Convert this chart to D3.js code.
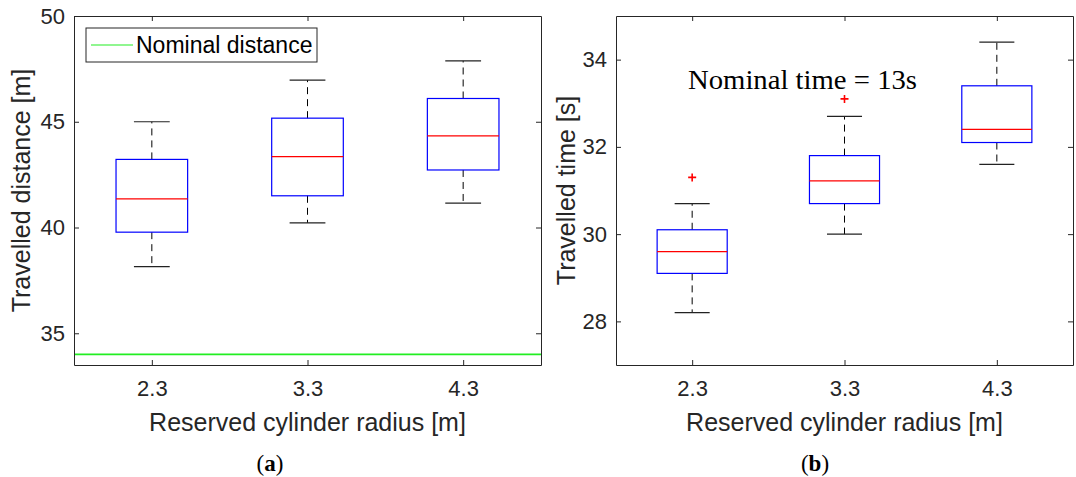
<!DOCTYPE html>
<html>
<head>
<meta charset="utf-8">
<script src="https://cdn.jsdelivr.net/npm/d3@7"></script>
<style>
  html, body { margin: 0; padding: 0; background: #fff; }
  svg { display: block; }
</style>
</head>
<body>
<svg id="chart" width="1076" height="477"></svg>
<script>
// ---------------- data ----------------
const categories = ["2.3", "3.3", "4.3"];

// (a) travelled distance [m]
const distLowerWhisker = [38.15, 40.22, 41.15];
const distQ1           = [39.78, 41.50, 42.72];
const distMedian       = [41.35, 43.35, 44.33];
const distQ3           = [43.22, 45.17, 46.10];
const distUpperWhisker = [45.00, 46.97, 47.88];
const distOutliers     = [[], [], []];
const nominalDistance  = 34;
const distTicks        = [35, 40, 45, 50];

// (b) travelled time [s]
const timeLowerWhisker = [28.2, 30.0, 31.6];
const timeQ1           = [29.1, 30.7, 32.1];
const timeMedian       = [29.6, 31.22, 32.4];
const timeQ3           = [30.1, 31.8, 33.4];
const timeUpperWhisker = [30.7, 32.7, 34.4];
const timeOutliers     = [[31.3], [33.1], []];
const timeTicks        = [28, 30, 32, 34];

// ---------------- drawing ----------------
const svg = d3.select("#chart");
const AX = "#262626";
const SANS = "'Liberation Sans', Arial, Helvetica, sans-serif";
const SERIF = "'Liberation Serif', 'Times New Roman', serif";

function panel(opts) {
  const { left, right, top, bottom, yDomain, yTicks, ylabel,
          lo, q1, med, q3, hi, outliers } = opts;
  const g = svg.append("g");
  const x = d3.scaleLinear().domain([0.5, categories.length + 0.5]).range([left, right]);
  const y = d3.scaleLinear().domain(yDomain).range([bottom, top]);
  const idx = categories.map((c, i) => i + 1);
  const boxW = 0.46, capW = 0.23;

  if (opts.refLine !== undefined) {
    g.append("line")
      .attr("x1", left).attr("x2", right)
      .attr("y1", y(opts.refLine)).attr("y2", y(opts.refLine))
      .attr("stroke", "#22ee22").attr("stroke-width", 1.6);
  }

  const tickLen = 5;
  const xAxisB = d3.axisBottom(x).tickValues(idx).tickFormat((d, i) => categories[i])
    .tickSizeInner(-tickLen).tickSizeOuter(0).tickPadding(15);
  const xAxisT = d3.axisTop(x).tickValues(idx).tickFormat("")
    .tickSizeInner(-tickLen).tickSizeOuter(0);
  const yAxisL = d3.axisLeft(y).tickValues(yTicks).tickFormat(d3.format("d"))
    .tickSizeInner(-tickLen).tickSizeOuter(0).tickPadding(9);
  const yAxisR = d3.axisRight(y).tickValues(yTicks).tickFormat("")
    .tickSizeInner(-tickLen).tickSizeOuter(0);

  const styleAxis = sel => {
    sel.selectAll("path").attr("stroke", AX).attr("stroke-width", 1);
    sel.selectAll("line").attr("stroke", AX).attr("stroke-width", 1);
    sel.selectAll("text").attr("fill", AX).style("font-family", SANS).style("font-size", "22px");
  };
  g.append("g").attr("transform", `translate(0,${bottom})`).call(xAxisB).call(styleAxis);
  g.append("g").attr("transform", `translate(0,${top})`).call(xAxisT).call(styleAxis);
  g.append("g").attr("transform", `translate(${left},0)`).call(yAxisL).call(styleAxis);
  g.append("g").attr("transform", `translate(${right},0)`).call(yAxisR).call(styleAxis);

  const wh = g.append("g");
  idx.forEach((c, i) => {
    wh.append("line").attr("x1", x(c)).attr("x2", x(c))
      .attr("y1", y(q3[i])).attr("y2", y(hi[i]))
      .attr("stroke", "#000").attr("stroke-width", 1).attr("stroke-dasharray", "7,5");
    wh.append("line").attr("x1", x(c)).attr("x2", x(c))
      .attr("y1", y(q1[i])).attr("y2", y(lo[i]))
      .attr("stroke", "#000").attr("stroke-width", 1).attr("stroke-dasharray", "7,5");
    [hi[i], lo[i]].forEach(v => {
      wh.append("line").attr("x1", x(c - capW / 2)).attr("x2", x(c + capW / 2))
        .attr("y1", y(v)).attr("y2", y(v))
        .attr("stroke", "#222").attr("stroke-width", 1.2);
    });
  });

  g.selectAll("rect.box").data(idx).join("rect").attr("class", "box")
    .attr("x", c => x(c - boxW / 2))
    .attr("width", c => x(c + boxW / 2) - x(c - boxW / 2))
    .attr("y", (c, i) => y(q3[i]))
    .attr("height", (c, i) => y(q1[i]) - y(q3[i]))
    .attr("fill", "none").attr("stroke", "#0000ff").attr("stroke-width", 1.2);

  g.selectAll("line.med").data(idx).join("line").attr("class", "med")
    .attr("x1", c => x(c - boxW / 2)).attr("x2", c => x(c + boxW / 2))
    .attr("y1", (c, i) => y(med[i])).attr("y2", (c, i) => y(med[i]))
    .attr("stroke", "#ff0000").attr("stroke-width", 1.2);

  const pts = [];
  idx.forEach((c, i) => outliers[i].forEach(v => pts.push([c, v])));
  g.selectAll("path.out").data(pts).join("path").attr("class", "out")
    .attr("d", d => {
      const cx = x(d[0]), cy = y(d[1]), r = 4;
      return `M${cx - r},${cy}H${cx + r}M${cx},${cy - r}V${cy + r}`;
    })
    .attr("stroke", "#ff0000").attr("stroke-width", 1.6).attr("fill", "none");

  g.append("text")
    .attr("transform", `translate(${opts.ylabelX},${(top + bottom) / 2}) rotate(-90)`)
    .attr("text-anchor", "middle").attr("fill", AX)
    .style("font-family", SANS).style("font-size", "25px").text(ylabel);
  g.append("text")
    .attr("x", (left + right) / 2).attr("y", opts.xlabelY)
    .attr("text-anchor", "middle").attr("fill", AX)
    .style("font-family", SANS).style("font-size", "25px").text("Reserved cylinder radius [m]");

  const cap = g.append("text").attr("x", opts.captionX).attr("y", 471)
    .attr("text-anchor", "middle").attr("fill", "#000")
    .style("font-family", SERIF).style("font-size", "23px");
  cap.append("tspan").text("(");
  cap.append("tspan").attr("font-weight", "bold").text(opts.caption);
  cap.append("tspan").text(")");

  return { g, x, y };
}

const pa = panel({
  left: 74, right: 541, top: 16, bottom: 365,
  yDomain: [33.5, 50], yTicks: distTicks,
  ylabel: "Travelled distance [m]", ylabelX: 30, xlabelY: 431,
  lo: distLowerWhisker, q1: distQ1, med: distMedian, q3: distQ3, hi: distUpperWhisker,
  outliers: distOutliers, refLine: nominalDistance,
  caption: "a", captionX: 270
});

const leg = pa.g.append("g");
leg.append("rect").attr("x", 86).attr("y", 28).attr("width", 231).attr("height", 34)
  .attr("fill", "#fff").attr("stroke", AX).attr("stroke-width", 1);
leg.append("line").attr("x1", 91).attr("x2", 133).attr("y1", 45).attr("y2", 45)
  .attr("stroke", "#22ee22").attr("stroke-width", 1.2);
leg.append("text").attr("x", 136).attr("y", 53).attr("fill", "#000")
  .style("font-family", SANS).style("font-size", "23px").text("Nominal distance");

const pb = panel({
  left: 616, right: 1073, top: 16, bottom: 365,
  yDomain: [27, 35], yTicks: timeTicks,
  ylabel: "Travelled time [s]", ylabelX: 575, xlabelY: 431,
  lo: timeLowerWhisker, q1: timeQ1, med: timeMedian, q3: timeQ3, hi: timeUpperWhisker,
  outliers: timeOutliers,
  caption: "b", captionX: 815
});

pb.g.append("text").attr("x", 688).attr("y", 89).attr("fill", "#000")
  .attr("textLength", 229).attr("lengthAdjust", "spacingAndGlyphs")
  .style("font-family", SERIF).style("font-size", "27px").text("Nominal time = 13s");
</script>
</body>
</html>
